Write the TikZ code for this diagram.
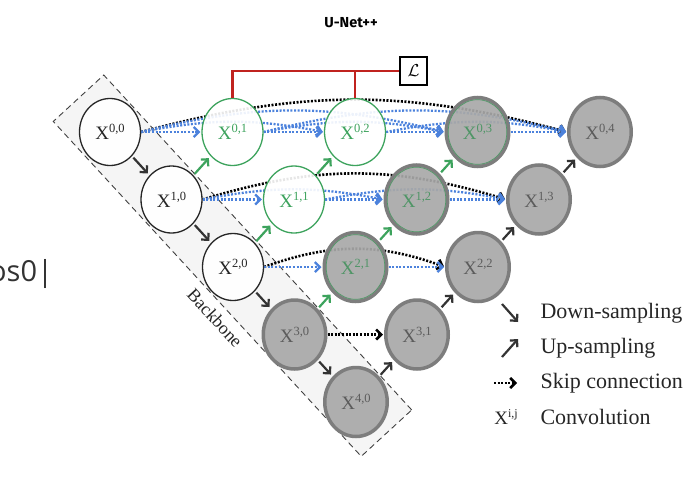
\documentclass[tikz,border=0pt]{standalone}
\usepackage{fontspec}
\setmainfont{Liberation Serif}
\newfontfamily\titlefont{Fira Sans}
\newfontfamily\strayfont{Open Sans}
\usetikzlibrary{arrows.meta,shapes.geometric}
\definecolor{ngreen}{HTML}{3DA35D}
\definecolor{mgreen}{HTML}{4F9566}
\definecolor{nblue}{HTML}{4C82DC}
\definecolor{ngray}{HTML}{A8A8A8}
\definecolor{nborder}{HTML}{7D7D7D}
\definecolor{nred}{HTML}{C0231F}
\definecolor{gtext}{HTML}{5C5C5C}
\definecolor{darkc}{HTML}{333333}
\newcommand{\xlab}[1]{X\raisebox{0.36em}{\fontsize{12.5}{12.5}\selectfont #1}}
\pgfdeclarelayer{bgzero}
\pgfdeclarelayer{bgone}
\pgfsetlayers{bgzero,bgone,main}
\begin{document}
\begin{tikzpicture}[x=1pt,y=-1pt,
  base/.style={ellipse, inner sep=0pt, font=\fontsize{19}{19}\selectfont, text opacity=1},
  wn/.style={base, draw=black!85, line width=1.3pt, fill=white, fill opacity=0.9, minimum width=61pt, minimum height=67pt, text=black!85},
  gn/.style={base, draw=ngreen, line width=1.3pt, fill=white, fill opacity=0.9, minimum width=61pt, minimum height=67pt, text=ngreen},
  hn/.style={base, draw=nborder, line width=3.5pt, fill=ngray, fill opacity=0.92, minimum width=62.5pt, minimum height=69pt, text=gtext},
  hg/.style={hn, text=mgreen},
  tipb/.style={-{Straight Barb[length=5pt,width=10pt]}},
  bsk/.style={draw=nblue, line width=2.3pt, dash pattern=on 2pt off 1.6pt, tipb, shorten >=1pt},
  ksk/.style={draw=black, line width=2.6pt, dash pattern=on 2pt off 1.6pt, tipb, shorten >=1pt},
  dn/.style={draw=darkc, line width=2.2pt, tipb, shorten <=2pt, shorten >=2.5pt},
  upg/.style={dn, draw=ngreen},
  lgtext/.style={anchor=west, font=\fontsize{22}{22}\selectfont, text=black!85},
]
\useasboundingbox (0,0) rectangle (686,498);

% title and stray text
\node[font=\titlefont\bfseries\fontsize{14.5}{14.5}\selectfont] (title) at (351,23) {U-Net++};
\node[anchor=base west, inner sep=0pt, font=\strayfont\fontsize{29}{29}\selectfont, text=black!80] (stray) at (-11,281) {os0|};

% backbone band
\begin{pgfonlayer}{bgzero}
\node[draw=black!75, dash pattern=on 6pt off 4pt, line width=0.9pt, fill=black!4,
  rotate=-47.4, minimum width=455pt, minimum height=68.6pt, inner sep=0pt] (band) at (232.5,265.7) {};
\end{pgfonlayer}

% nodes
\node[wn] (x00) at (110,132) {\xlab{0,0}};
\node[gn] (x01) at (232.5,132) {\xlab{0,1}};
\node[gn] (x02) at (355,132) {\xlab{0,2}};
\node[hg] (x03) at (477.5,132) {\xlab{0,3}};
\node[hn] (x04) at (600,132) {\xlab{0,4}};
\node[wn] (x10) at (171.5,199.5) {\xlab{1,0}};
\node[gn] (x11) at (294,199.5) {\xlab{1,1}};
\node[hg] (x12) at (416.5,199.5) {\xlab{1,2}};
\node[hn] (x13) at (539,199.5) {\xlab{1,3}};
\node[wn] (x20) at (233,267) {\xlab{2,0}};
\node[hg] (x21) at (355.5,267) {\xlab{2,1}};
\node[hn] (x22) at (478,267) {\xlab{2,2}};
\node[hn] (x30) at (294.5,334.5) {\xlab{3,0}};
\node[hn] (x31) at (417,334.5) {\xlab{3,1}};
\node[hn] (x40) at (356,402) {\xlab{4,0}};

\foreach \n in {x03,x12,x21}
  \draw[ngreen!70!gray, line width=0.7pt] (\n.center) ellipse [x radius=29.3pt, y radius=32.3pt];

% backbone label
\node[rotate=-47.4, fill=white, inner sep=0.5pt, font=\fontsize{18}{18}\selectfont, text=black!85] (bblabel) at (215,318) {Backbone};

% skip connections
\begin{pgfonlayer}{bgone}
\draw[ksk] (x00.east) to[bend left=15] (x04.west);
\draw[bsk] (x00.east) to[bend left=14] (x03.west);
\draw[bsk] (x01.east) to[bend left=14] (x04.west);
\draw[bsk] (x00.east) to[bend left=11] (x02.west);
\draw[bsk] (x01.east) to[bend left=11] (x03.west);
\draw[bsk] (x02.east) to[bend left=11] (x04.west);
\draw[bsk] (x00.east) -- (x01.west);
\draw[bsk] (x01.east) -- (x02.west);
\draw[bsk] (x02.east) -- (x03.west);
\draw[bsk] (x03.east) -- (x04.west);
\draw[ksk] (x10.east) to[bend left=17] (x13.west);
\draw[bsk] (x10.east) to[bend left=11] (x12.west);
\draw[bsk] (x11.east) to[bend left=11] (x13.west);
\draw[bsk] (x10.east) -- (x11.west);
\draw[bsk] (x11.east) -- (x12.west);
\draw[bsk] (x12.east) -- (x13.west);
\draw[ksk] (x20.east) to[bend left=20] (x22.west);
\draw[bsk] (x20.east) -- (x21.west);
\draw[bsk] (x21.east) -- (x22.west);
\draw[ksk] (x30.east) -- (x31.west);
\end{pgfonlayer}

% down / up sampling
\draw[dn] (x00) -- (x10);
\draw[dn] (x10) -- (x20);
\draw[dn] (x20) -- (x30);
\draw[dn] (x30) -- (x40);
\draw[upg] (x10) -- (x01);
\draw[upg] (x11) -- (x02);
\draw[upg] (x12) -- (x03);
\draw[upg] (x20) -- (x11);
\draw[upg] (x21) -- (x12);
\draw[upg] (x30) -- (x21);
\draw[dn] (x40) -- (x31);
\draw[dn] (x31) -- (x22);
\draw[dn] (x22) -- (x13);
\draw[dn] (x13) -- (x04);

% loss
\node[draw=black, line width=2pt, fill=white, minimum width=27pt, minimum height=28pt, inner sep=0pt] (loss) at (413.5,71) {\fontsize{17}{17}\selectfont$\mathcal{L}$};
\draw[nred, line width=2.6pt] (x01.north) |- (loss.west);
\draw[nred, line width=2.6pt] (x02.north) -- (x02.north |- loss.west);

% legend
\coordinate (ld1) at (502,304); \coordinate (ld2) at (518,322);
\coordinate (lu1) at (502,357); \coordinate (lu2) at (518,339);
\coordinate (ls1) at (494,383); \coordinate (ls2) at (517,383);
\draw[dn, shorten <=0pt, shorten >=0pt] (ld1) -- (ld2);
\draw[dn, shorten <=0pt, shorten >=0pt] (lu1) -- (lu2);
\draw[ksk, shorten >=0pt] (ls1) -- (ls2);
\node[font=\fontsize{19}{19}\selectfont, text=black!85] (lx) at (506,417) {X\raisebox{0.36em}{\fontsize{12}{12}\selectfont i,j}};
\node[lgtext] (t1) at (537,313) {Down-sampling};
\node[lgtext] (t2) at (537,348) {Up-sampling};
\node[lgtext] (t3) at (537,383) {Skip connection};
\node[lgtext] (t4) at (537,417) {Convolution};
\end{tikzpicture}
\end{document}
